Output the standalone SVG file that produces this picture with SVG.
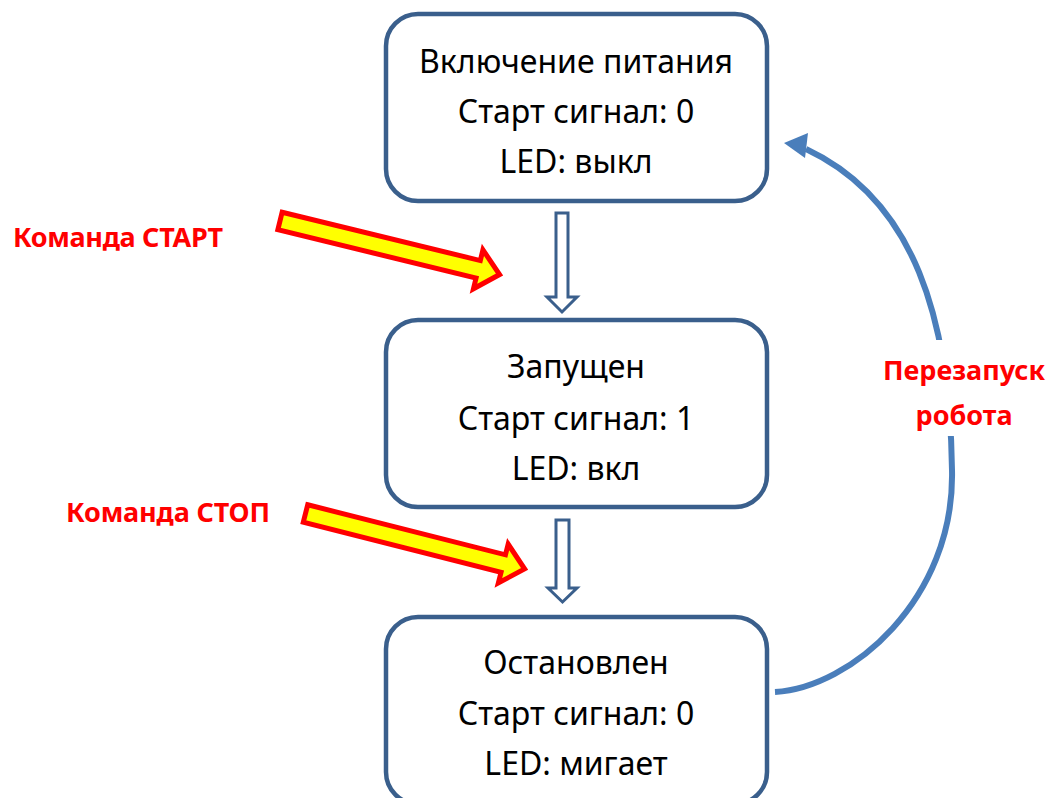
<svg xmlns="http://www.w3.org/2000/svg" width="1051" height="798" viewBox="0 0 1051 798">
<style>
.box{fill:#fff;stroke:#3a5f8c;stroke-width:4.5}
.bt{font-family:"Noto Sans","Open Sans","Liberation Sans",sans-serif;font-size:32px;fill:#000;text-anchor:middle}
.lbl{font-family:"Noto Sans","Open Sans","Liberation Sans",sans-serif;font-size:27px;font-weight:bold;fill:#ff0000}
.hollow{fill:#fff;stroke:#3a5f8c;stroke-width:3;stroke-linejoin:miter}
.yel{fill:#ffff00;stroke:#ff0000;stroke-width:5;stroke-linejoin:miter}
.curve{fill:none;stroke:#4a7ebb;stroke-width:6}
</style>
<defs>
<polygon id="yarrow" points="0,-9 204,-9 204,-20 226,0 204,20 204,9 0,9"/>
</defs>
<g id="connectors">
<polygon class="hollow" points="556,213 568,213 568,297 577,297 562,312 547,297 556,297"/>
<polygon class="hollow" points="556,520 569,520 569,588 577,588 562.5,602 548,588 556,588"/>
<use href="#yarrow" class="yel" transform="translate(280,221) rotate(13.7)"/>
<use href="#yarrow" class="yel" transform="translate(305.5,513.5) rotate(14.2)"/>
<path class="curve" d="M 775 692 C 850 688, 955 600, 952 470 C 950 320, 915 200, 806 149"/>
<polygon fill="#4a7ebb" points="784,143 808,133 805,158"/>
</g>
<g id="node-power">
<rect class="box" x="386" y="14" width="381" height="187" rx="32"/>
<text class="bt" x="576" y="73" textLength="314">Включение питания</text>
<text class="bt" x="576" y="123">Старт сигнал: 0</text>
<text class="bt" x="576" y="173">LED: выкл</text>
</g>
<g id="node-running">
<rect class="box" x="386" y="320" width="381" height="187" rx="32"/>
<text class="bt" x="576" y="378">Запущен</text>
<text class="bt" x="576" y="430">Старт сигнал: 1</text>
<text class="bt" x="576" y="480">LED: вкл</text>
</g>
<g id="node-stopped">
<rect class="box" x="386" y="617" width="381" height="187" rx="32"/>
<text class="bt" x="576" y="674">Остановлен</text>
<text class="bt" x="576" y="725">Старт сигнал: 0</text>
<text class="bt" x="576" y="775">LED: мигает</text>
</g>
<g id="label-start">
<text class="lbl" x="13" y="247" textLength="210">Команда СТАРТ</text>
</g>
<g id="label-stop">
<text class="lbl" x="66" y="522" textLength="204">Команда СТОП</text>
</g>
<g id="label-restart">
<rect x="882" y="340" width="166" height="96" fill="#fff"/>
<text class="lbl" x="964" y="380" text-anchor="middle">Перезапуск</text>
<text class="lbl" x="964" y="425" text-anchor="middle">робота</text>
</g>
</svg>
